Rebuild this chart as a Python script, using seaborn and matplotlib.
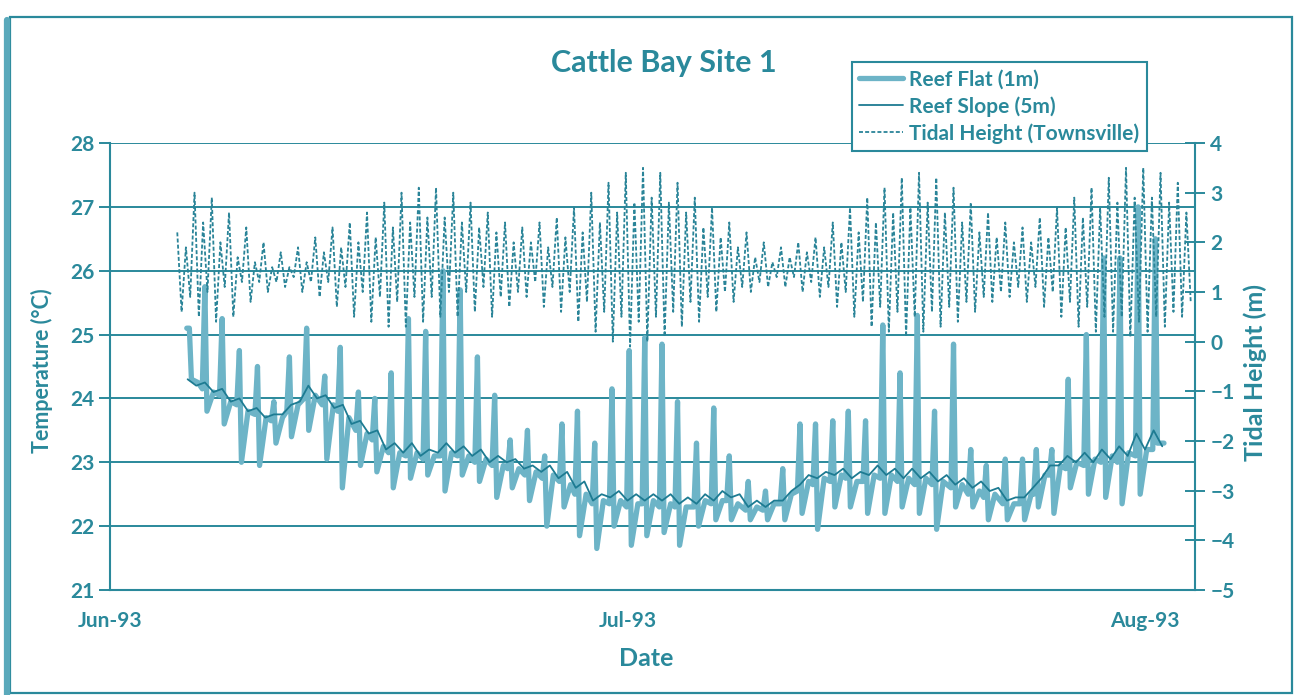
import numpy as np
import pandas as pd
import matplotlib
matplotlib.use("Agg")
import matplotlib.pyplot as plt
import seaborn as sns
from matplotlib.patches import Rectangle
from matplotlib.lines import Line2D

sns.set_style("white")
plt.rcParams['font.family'] = ['Lato', 'DejaVu Sans']
plt.rcParams['font.weight'] = 'bold'

TEAL = '#2a899b'
FLAT_C = '#6db4c7'
SLOPE_C = '#1d7b92'
TIDE_C = '#2a8498'

# ---------------- data ----------------
month_labels = ['Jun-93', 'Jul-93', 'Aug-93']
month_days = [0, 30, 60]

# Reef flat (1m): daily low-tide warming spikes
spike_day = [4.6, 5.5, 6.5, 7.5, 8.55, 9.5, 10.4, 11.4, 12.45, 13.35,
             14.4, 15.35, 16.3, 17.3, 18.3, 19.3, 20.3, 21.3, 22.3, 23.2,
             24.2, 25.2, 26.2, 27.1, 28.1, 29.1, 30.1, 31.0, 32.0, 32.9,
             34.0, 35.0, 35.9, 37.0, 38.0, 39.0, 40.0, 40.9, 41.9, 42.8,
             43.8, 44.8, 45.8, 46.8, 47.8, 48.9, 49.9, 50.8, 51.9, 52.9,
             53.7, 54.6, 55.55, 56.6, 57.6, 58.55, 59.6, 60.6]
flat_peak = [25.1, 25.75, 25.25, 24.75, 24.5, 23.95, 24.65, 25.1, 24.35, 24.8,
             24.1, 24.0, 24.4, 25.25, 25.05, 26.0, 25.7, 24.65, 24.05, 23.35,
             23.5, 23.1, 23.6, 23.8, 23.3, 24.15, 24.75, 24.95, 24.85, 23.95,
             23.3, 23.85, 23.1, 22.7, 22.55, 22.9, 23.6, 23.6, 23.65, 23.8,
             23.65, 25.15, 24.4, 25.3, 23.8, 24.85, 23.2, 22.95, 23.05, 23.05,
             23.2, 23.2, 24.3, 25.0, 26.2, 26.2, 27.0, 26.5]
flat_before = [25.1, 24.15, 24.05, 23.9, 23.75, 23.65, 23.8, 24.0, 23.9, 23.8,
               23.5, 23.35, 23.15, 23.1, 23.05, 23.1, 23.1, 23.0, 22.95, 22.9,
               22.8, 22.75, 22.7, 22.5, 22.35, 22.35, 22.3, 22.35, 22.3, 22.3,
               22.3, 22.35, 22.4, 22.25, 22.25, 22.35, 22.55, 22.65, 22.7, 22.75,
               22.7, 22.75, 22.7, 22.65, 22.65, 22.6, 22.5, 22.45, 22.35, 22.35,
               22.5, 22.8, 22.9, 22.95, 23.0, 23.0, 23.1, 23.2]
flat_dip = [24.3, 23.8, 23.6, 23.0, 22.95, 23.3, 23.4, 23.5, 23.05, 22.6,
            22.95, 22.85, 22.6, 22.75, 22.8, 22.55, 22.8, 22.7, 22.45, 22.6,
            22.4, 22.0, 22.3, 21.85, 21.65, 22.0, 21.7, 21.85, 21.9, 21.7,
            22.0, 22.1, 22.1, 22.1, 22.1, 22.1, 22.2, 21.95, 22.3, 22.3,
            22.2, 22.2, 22.3, 22.2, 21.95, 22.3, 22.3, 22.1, 22.1, 22.1,
            22.3, 22.2, 22.6, 22.5, 22.45, 22.35, 22.5, 23.3]
flat_mid = [24.25, 24.1, 23.95, 23.8, 23.7, 23.7, 23.9, 24.05, 23.9, 23.7,
            23.45, 23.25, 23.15, 23.15, 23.1, 23.15, 23.1, 23.05, 22.95, 22.9,
            22.85, 22.8, 22.65, 22.5, 22.4, 22.4, 22.35, 22.4, 22.35, 22.3,
            22.4, 22.4, 22.35, 22.3, 22.35, 22.5, 22.7, 22.75, 22.8, 22.7,
            22.8, 22.8, 22.75, 22.75, 22.7, 22.65, 22.55, 22.5, 22.35, 22.5,
            22.8, 22.95, 23.0, 23.05, 23.1, 23.15, 23.2, 23.3]

# Reef slope (5m): half-daily readings from day 4.5
slope_start = 4.5
slope_temp = [24.3, 24.2, 24.25, 24.1, 24.15, 23.95, 24.0, 23.8, 23.85, 23.7,
              23.75, 23.75, 23.9, 23.95, 24.2, 24.0, 24.05, 23.85, 23.9, 23.6,
              23.65, 23.45, 23.5, 23.2, 23.3, 23.15, 23.3, 23.1, 23.2, 23.15,
              23.3, 23.15, 23.25, 23.1, 23.2, 23.0, 23.1, 23.0, 23.05, 22.9,
              22.95, 22.85, 22.95, 22.75, 22.85, 22.6, 22.7, 22.4, 22.5, 22.45,
              22.55, 22.4, 22.5, 22.4, 22.5, 22.4, 22.5, 22.35, 22.45, 22.35,
              22.5, 22.4, 22.55, 22.45, 22.5, 22.3, 22.4, 22.3, 22.4, 22.4,
              22.55, 22.65, 22.8, 22.75, 22.85, 22.8, 22.9, 22.75, 22.85, 22.8,
              22.95, 22.8, 22.9, 22.75, 22.9, 22.75, 22.85, 22.7, 22.8, 22.65,
              22.75, 22.6, 22.7, 22.55, 22.6, 22.4, 22.45, 22.45, 22.6, 22.75,
              22.95, 22.95, 23.1, 23.0, 23.15, 23.0, 23.2, 23.05, 23.25, 23.1,
              23.45, 23.2, 23.5, 23.25]

# Tidal height (Townsville): 6-hourly high/low readings from day 3.9
tide_start = 3.9
tide_rows = [
    [2.2, 0.6, 1.9, 0.9], [3.0, 0.5, 2.4, 1.0], [2.9, 0.4, 2.0, 1.1], [2.6, 0.5, 1.7, 1.2],
    [2.3, 0.8, 1.6, 1.2], [2.0, 1.0, 1.5, 1.2], [1.8, 1.1, 1.5, 1.3], [1.9, 1.0, 1.6, 1.2],
    [2.1, 0.9, 1.8, 1.2], [2.3, 0.7, 1.9, 1.1], [2.4, 0.5, 2.0, 1.0], [2.6, 0.4, 2.1, 0.9],
    [2.8, 0.3, 2.3, 0.8], [3.0, 0.3, 2.4, 0.9], [3.1, 0.4, 2.5, 0.9], [3.1, 0.5, 2.5, 1.0],
    [3.0, 0.5, 2.4, 1.0], [2.8, 0.6, 2.3, 1.1], [2.6, 0.5, 2.2, 0.9], [2.4, 0.7, 2.0, 1.0],
    [2.3, 0.9, 2.0, 1.2], [2.4, 0.7, 1.9, 1.1], [2.5, 0.6, 2.1, 1.0], [2.7, 0.4, 2.2, 0.8],
    [3.0, 0.2, 2.4, 0.6], [3.2, 0.0, 2.6, 0.5], [3.4, -0.1, 2.8, 0.4], [3.5, 0.0, 2.9, 0.5],
    [3.4, 0.1, 2.8, 0.6], [3.2, 0.3, 2.6, 0.8], [2.9, 0.4, 2.3, 0.9], [2.7, 0.6, 2.1, 1.0],
    [2.4, 0.8, 1.9, 1.1], [2.2, 1.0, 1.7, 1.2], [2.0, 1.1, 1.6, 1.3], [1.9, 1.1, 1.7, 1.3],
    [2.0, 1.0, 1.8, 1.2], [2.1, 0.9, 1.9, 1.1], [2.4, 0.7, 2.0, 1.0], [2.7, 0.5, 2.2, 0.8],
    [2.9, 0.3, 2.4, 0.7], [3.1, 0.2, 2.6, 0.6], [3.3, 0.1, 2.7, 0.5], [3.4, 0.2, 2.8, 0.6],
    [3.3, 0.3, 2.6, 0.7], [3.1, 0.4, 2.4, 0.8], [2.8, 0.6, 2.2, 0.9], [2.6, 0.8, 2.1, 1.0],
    [2.4, 0.9, 2.0, 1.1], [2.3, 0.8, 2.0, 1.1], [2.5, 0.7, 2.1, 1.0], [2.7, 0.5, 2.3, 0.8],
    [2.9, 0.3, 2.5, 0.7], [3.1, 0.2, 2.7, 0.5], [3.3, 0.2, 2.8, 0.5], [3.5, 0.1, 2.9, 0.4],
    [3.5, 0.2, 2.9, 0.5], [3.4, 0.3, 2.8, 0.6], [3.2, 0.5, 2.6, 0.8],
]

# ---------------- tables ----------------
ft, fv = [], []
for s, b, p, d, m in zip(spike_day, flat_before, flat_peak, flat_dip, flat_mid):
    ft += [s - 0.15, s, s + 0.12, s + 0.5]
    fv += [b, p, d, m]
flat_df = pd.DataFrame({'day': ft, 'temp': fv})
slope_df = pd.DataFrame({'day': slope_start + 0.5 * np.arange(len(slope_temp)),
                         'temp': slope_temp})
tide_vals = [v for row in tide_rows for v in row]
tide_df = pd.DataFrame({'day': tide_start + 0.25 * np.arange(len(tide_vals)),
                        'height': tide_vals})

# ---------------- figure ----------------
W, H = 1295, 695
fig = plt.figure(figsize=(W / 100, H / 100), dpi=100)
fig.patch.set_facecolor('white')

# page frame
fig.add_artist(Rectangle((10 / W, 2 / H), 1282 / W, 676 / H, transform=fig.transFigure,
                         fill=False, edgecolor=TEAL, lw=1.6))
fig.add_artist(Line2D([7 / W, 7 / W], [0, 1 - 20 / H], transform=fig.transFigure,
                      color='#5aa9bb', lw=4.5))

ax = fig.add_axes([110 / W, 1 - 590 / H, 1085 / W, 447 / H])
ax.set_facecolor('none')
ax2 = ax.twinx()

xmax = 1085 / 17.25
for y in range(21, 29):
    ax.axhline(y, color=TEAL, lw=1.4, zorder=0)

sns.lineplot(data=flat_df, x='day', y='temp', ax=ax, color=FLAT_C, lw=3.8,
             sort=False, estimator=None, legend=False, zorder=2)
sns.lineplot(data=slope_df, x='day', y='temp', ax=ax, color=SLOPE_C, lw=1.3,
             sort=False, estimator=None, legend=False, zorder=3)
sns.lineplot(data=tide_df, x='day', y='height', ax=ax2, color=TIDE_C, lw=1.3,
             linestyle=(0, (2.2, 1.2)), sort=False, estimator=None, legend=False)

ax.set_xlim(0, xmax)
ax.set_ylim(21, 28)
ax2.set_ylim(-5, 4)

xt = np.arange(0, 61, 6)
ax.set_xticks(xt)
ax.set_xticklabels([month_labels[month_days.index(d)] if d in month_days else '' for d in xt])
ax.set_yticks(range(21, 29))
ax2.set_yticks(range(-5, 5))

for a in (ax, ax2):
    for sp in a.spines.values():
        sp.set_visible(False)
ax.spines['left'].set_visible(True)
ax.spines['bottom'].set_visible(True)
ax2.spines['right'].set_visible(True)
for sp in (ax.spines['left'], ax.spines['bottom'], ax2.spines['right']):
    sp.set_color(TEAL)
    sp.set_linewidth(1.5)

tick_font = dict(labelsize=15, labelcolor=TEAL, color=TEAL, width=1.4)
ax.tick_params(axis='x', direction='in', length=10, pad=15, **tick_font)
ax.tick_params(axis='y', direction='out', length=8, pad=3, left=True, **tick_font)
ax2.tick_params(axis='y', direction='inout', length=14, pad=4, right=True, **tick_font)
for lab in ax.get_xticklabels() + ax.get_yticklabels() + ax2.get_yticklabels():
    lab.set_fontweight('bold')

ax.set_xlabel('')
ax.set_ylabel('')
ax2.set_ylabel('')

fig.text(664 / W, 1 - 63 / H, 'Cattle Bay Site 1', ha='center', va='center',
         fontsize=22, fontweight='bold', color=TEAL)
fig.text(646 / W, 1 - 658 / H, 'Date', ha='center', va='center',
         fontsize=18, fontweight='bold', color=TEAL)
fig.text(42 / W, 1 - 371 / H, 'Temperature (°C)', ha='center', va='center',
         rotation=90, fontsize=15.5, fontweight='bold', color=TEAL)
fig.text(1255 / W, 1 - 373 / H, 'Tidal Height (m)', ha='center', va='center',
         rotation=90, fontsize=18, fontweight='bold', color=TEAL)

handles = [Line2D([], [], color=FLAT_C, lw=3.8),
           Line2D([], [], color=SLOPE_C, lw=1.3),
           Line2D([], [], color=TIDE_C, lw=1.3, linestyle=(0, (2.2, 1.2)))]
labels = ['Reef Flat (1m)', 'Reef Slope (5m)', 'Tidal Height (Townsville)']
leg = fig.legend(handles, labels, loc='upper left',
                 bbox_to_anchor=(852 / W, 1 - 62 / H), frameon=True, fancybox=False,
                 framealpha=1, edgecolor=TEAL, labelcolor=TEAL,
                 prop={'size': 15, 'weight': 'bold'}, handlelength=2.1,
                 handletextpad=0.3, labelspacing=0.32, borderpad=0.35,
                 borderaxespad=0)
leg.get_frame().set_linewidth(1.5)
leg.set_zorder(10)

fig.savefig('out.png', dpi=100, facecolor='white')
